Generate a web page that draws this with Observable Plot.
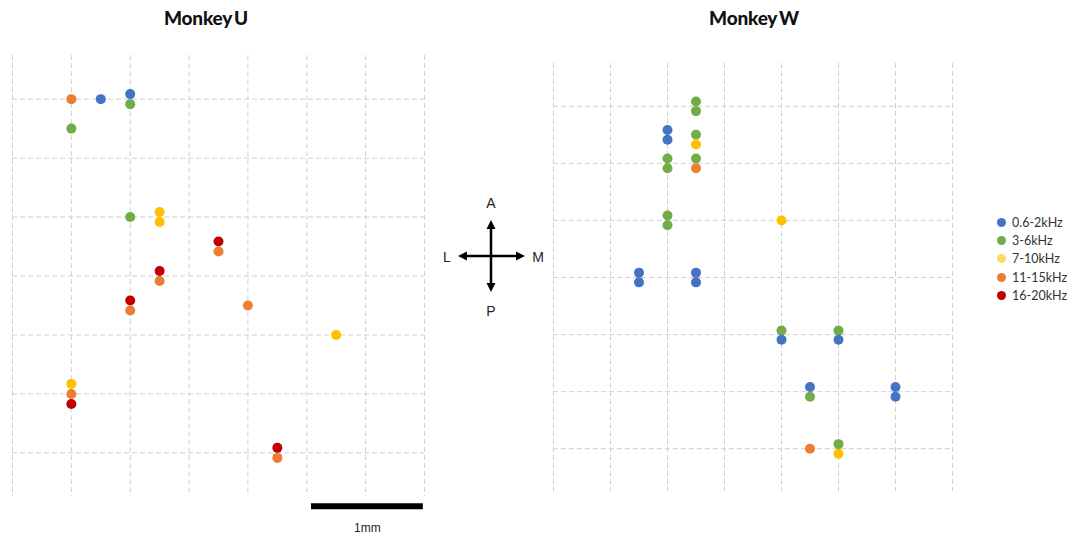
<!DOCTYPE html>
<html>
<head>
<meta charset="utf-8">
<script src="https://cdn.jsdelivr.net/npm/d3@7"></script>
<script src="https://cdn.jsdelivr.net/npm/@observablehq/plot@0.6"></script>
<style>
  html, body { margin: 0; padding: 0; background: #fff; }
  #chart { position: relative; width: 1074px; height: 537px; background: #fff; font-family: "Liberation Sans", Arial, sans-serif; overflow: hidden; }
  .title { position: absolute; top: 6px; width: 200px; text-align: center; font-family: "Lato", "Liberation Sans", sans-serif; font-weight: 900; font-size: 19px; color: #111; letter-spacing: -0.2px; word-spacing: -2px; }
  .panel { position: absolute; top: 0; }
  #legend { position: absolute; left: 997px; top: 213px; font-family: "Lato", "Liberation Sans", sans-serif; font-size: 12.5px; color: #333; }
  #legend .row { display: flex; align-items: center; height: 18.3px; }
  #legend .sw { width: 9px; height: 9px; border-radius: 50%; margin-right: 6px; }
</style>
</head>
<body>
<div id="chart">
  <div class="title" style="left:106px">Monkey U</div>
  <div class="title" style="left:654px">Monkey W</div>
  <div id="panelU" class="panel" style="left:0px"></div>
  <div id="panelW" class="panel" style="left:530px"></div>
  <svg id="compass" style="position:absolute;left:430px;top:185px" width="130" height="140"></svg>
  <div id="legend"></div>
</div>
<script>
// Frequency bands and their colours
const bands = ["0.6-2kHz", "3-6kHz", "7-10kHz", "11-15kHz", "16-20kHz"];
const bandColors = ["#4472C4", "#70AD47", "#FFC000", "#ED7D31", "#C00000"];
const legendColors = ["#4472C4", "#70AD47", "#FFD966", "#ED7D31", "#C00000"];

// Grid positions (0.5 mm steps), medial-lateral and anterior-posterior
const gridML = [0, 1, 2, 3, 4, 5, 6, 7];
const gridAP = [1, 2, 3, 4, 5, 6, 7];

// Monkey U recording sites
const uML = [1, 1.5, 2, 2, 1, 2, 2.5, 2.5, 3.5, 3.5, 2.5, 2.5, 2, 2, 4, 5.5, 1, 1, 1, 4.5, 4.5];
const uAP = [1, 1, 0.915, 1.085, 1.5, 3, 2.915, 3.085, 3.415, 3.585, 3.915, 4.085, 4.415, 4.585, 4.5, 5, 5.83, 6, 6.17, 6.915, 7.085];
const uBand = ["11-15kHz", "0.6-2kHz", "0.6-2kHz", "3-6kHz", "3-6kHz", "3-6kHz", "7-10kHz", "7-10kHz",
  "16-20kHz", "11-15kHz", "16-20kHz", "11-15kHz", "16-20kHz", "11-15kHz", "11-15kHz", "7-10kHz",
  "7-10kHz", "11-15kHz", "16-20kHz", "16-20kHz", "11-15kHz"];

// Monkey W recording sites
const wML = [2.5, 2.5, 2, 2, 2.5, 2.5, 2, 2, 2.5, 2.5, 2, 2, 4, 1.5, 1.5, 2.5, 2.5, 4, 4, 5, 5, 4.5, 4.5, 6, 6, 4.5, 5, 5];
const wAP = [0.915, 1.085, 1.415, 1.585, 1.5, 1.67, 1.915, 2.085, 1.915, 2.085, 2.915, 3.085, 3, 3.915, 4.085, 3.915, 4.085,
  4.93, 5.09, 4.93, 5.09, 5.92, 6.09, 5.92, 6.09, 7, 6.92, 7.09];
const wBand = ["3-6kHz", "3-6kHz", "0.6-2kHz", "0.6-2kHz", "3-6kHz", "7-10kHz", "3-6kHz", "3-6kHz", "3-6kHz", "11-15kHz",
  "3-6kHz", "3-6kHz", "7-10kHz", "0.6-2kHz", "0.6-2kHz", "0.6-2kHz", "0.6-2kHz", "3-6kHz", "0.6-2kHz", "3-6kHz",
  "0.6-2kHz", "0.6-2kHz", "3-6kHz", "0.6-2kHz", "0.6-2kHz", "11-15kHz", "3-6kHz", "7-10kHz"];

const scaleLabel = "1mm";

const toRows = (ml, ap, band) => ml.map((x, i) => ({ml: x, ap: ap[i], band: band[i]}));

function panel({rows, width, height, margins, yDomain, extra = []}) {
  const gridStyle = {stroke: "#d0d0d0", strokeWidth: 1, strokeDasharray: "5,3"};
  return Plot.plot({
    width, height,
    marginLeft: margins[0], marginRight: margins[1], marginTop: margins[2], marginBottom: margins[3],
    x: {domain: [0, 7], axis: null},
    // anterior at the top, posterior at the bottom
    y: {domain: yDomain, reverse: true, axis: null},
    color: {domain: bands, range: bandColors},
    style: {background: "transparent", overflow: "visible"},
    marks: [
      Plot.ruleX(gridML, {...gridStyle}),
      Plot.ruleY(gridAP, {x1: 0, x2: 7, ...gridStyle}),
      Plot.dot(rows, {x: "ml", y: "ap", fill: "band", r: 5, stroke: null}),
      ...extra
    ]
  });
}

// Left panel with scale bar (1 mm = two grid steps)
document.getElementById("panelU").append(panel({
  rows: toRows(uML, uAP, uBand),
  width: 440, height: 537,
  margins: [12, 16, 55, 41],
  yDomain: [0.26, 7.74],
  extra: [
    Plot.ruleY([7.905], {x1: 5.08, x2: 6.98, stroke: "#000", strokeWidth: 6}),
    Plot.text([scaleLabel], {x: 6.03, y: 8.27, text: d => d, fontSize: 12, fill: "#222", fontFamily: "Liberation Sans, Arial, sans-serif"})
  ]
}));

document.getElementById("panelW").append(panel({
  rows: toRows(wML, wAP, wBand),
  width: 440, height: 537,
  margins: [23, 18, 63, 46],
  yDomain: [0.25, 7.75]
}));

// Orientation compass (A/P/L/M)
(function () {
  const svg = d3.select("#compass");
  const cx = 61, cy = 71;
  const head = (x, y, dir) => {
    const L = 9, W = 4.5;
    const pts = {
      up: [[x, y], [x - W, y + L], [x + W, y + L]],
      down: [[x, y], [x - W, y - L], [x + W, y - L]],
      left: [[x, y], [x + L, y - W], [x + L, y + W]],
      right: [[x, y], [x - L, y - W], [x - L, y + W]]
    }[dir];
    svg.append("polygon").attr("points", pts.map(p => p.join(",")).join(" ")).attr("fill", "#000");
  };
  svg.append("line").attr("x1", cx).attr("x2", cx).attr("y1", 40).attr("y2", 102).attr("stroke", "#000").attr("stroke-width", 2.5);
  svg.append("line").attr("x1", 33).attr("x2", 90).attr("y1", cy).attr("y2", cy).attr("stroke", "#000").attr("stroke-width", 2.5);
  head(cx, 35, "up");
  head(cx, 107, "down");
  head(28, cy, "left");
  head(95, cy, "right");
  const lab = (t, x, y) => svg.append("text").attr("x", x).attr("y", y).attr("text-anchor", "middle")
    .attr("dominant-baseline", "central").attr("font-size", 14).attr("fill", "#222")
    .attr("font-family", "Liberation Sans, Arial, sans-serif").text(t);
  lab("A", cx, 18);
  lab("P", cx, 126);
  lab("L", 17, cy + 1);
  lab("M", 108, cy + 1);
})();

// Legend
const legend = d3.select("#legend");
bands.forEach((b, i) => {
  const row = legend.append("div").attr("class", "row");
  row.append("div").attr("class", "sw").style("background", legendColors[i]);
  row.append("span").text(b);
});
</script>
</body>
</html>
